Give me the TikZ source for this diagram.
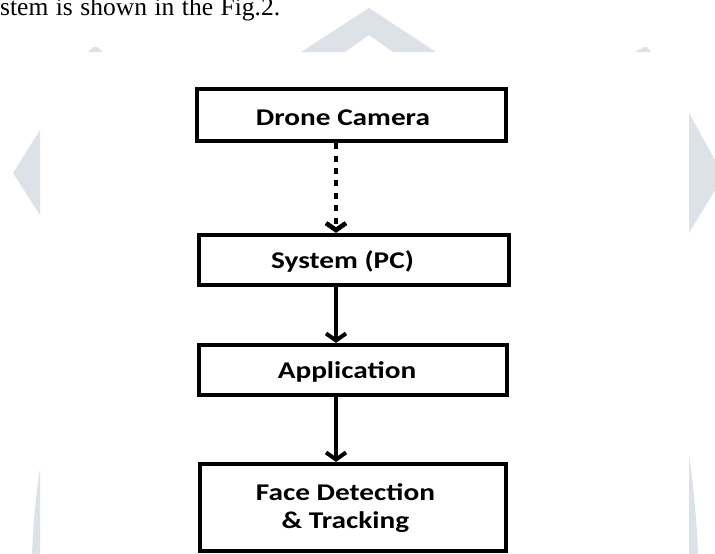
\documentclass[tikz,border=0pt]{standalone}
\usepackage{fontspec}
\newfontfamily\boxfont[FakeStretch=1.22]{Carlito}
\newfontfamily\serfont{Liberation Serif}
\usetikzlibrary{arrows.meta}
\definecolor{wm}{RGB}{221,226,232}
\begin{document}
\begin{tikzpicture}[x=1pt,y=1pt,
  blk/.style={draw=black, line width=4.2pt, inner sep=0pt, fill=white},
  lbl/.style={font=\boxfont\bfseries\fontsize{24}{28}\selectfont, inner sep=0pt, anchor=base, align=center},
  flow/.style={line width=4pt, -{Straight Barb[length=7pt,width=20pt]}},
  dotflow/.style={line width=4.6pt, dash pattern=on 6pt off 6.4pt, -{Straight Barb[length=7pt,width=20pt]}}]
\useasboundingbox (0,0) rectangle (715,-554);
\fill[white] (0,0) rectangle (715,-554);
% watermark remnants
\fill[wm] (301,-52) -- (369,-8) -- (436,-52) -- (393,-52) -- (369,-35) -- (345,-52) -- cycle;
\fill[wm] (88,-52) -- (93,-47) -- (97,-47) -- (103,-52) -- cycle;
\fill[wm] (635,-52) -- (644,-47) -- (647,-47) -- (651,-52) -- cycle;
\fill[wm] (40,-130) -- (13,-173) -- (40,-215) -- cycle;
\fill[wm] (689,-113) -- (715,-160) -- (715,-190) -- (689,-233) -- cycle;
\fill[wm] (40,-469) .. controls (35,-500) and (33,-530) .. (32,-554) -- (40,-554) -- cycle;
\fill[wm] (689,-455) .. controls (694,-490) and (697,-525) .. (698,-554) -- (689,-554) -- cycle;
% intro text
\node[font=\serfont\fontsize{25.5}{28}\selectfont, anchor=base west, inner sep=0pt] (intro) at (0,-16) {\makebox[280pt][s]{stem is shown in the Fig.2.}};
% boxes
\node[blk, minimum width=309pt, minimum height=52pt] (dc) at (351.5,-115) {};
\node[blk, minimum width=310pt, minimum height=50pt] (sys) at (354,-260) {};
\node[blk, minimum width=308pt, minimum height=50pt] (app) at (353,-370) {};
\node[blk, minimum width=306pt, minimum height=87pt] (fd) at (353,-507.5) {};
% labels
\node[lbl] (dct) at (343,-125) {Drone Camera};
\node[lbl] (syst) at (342.5,-268) {System (PC)};
\node[lbl] (appt) at (347,-378) {Application};
\node[lbl] (fdt) at (345.5,-528) {Face Detection\\\& Tracking};
% connectors
\coordinate (ax) at (336,0);
\draw[dotflow] (dc.south -| ax) -- (sys.north -| ax);
\draw[flow] (sys.south -| ax) -- (app.north -| ax);
\draw[flow] (app.south -| ax) -- (fd.north -| ax);
\end{tikzpicture}
\end{document}
